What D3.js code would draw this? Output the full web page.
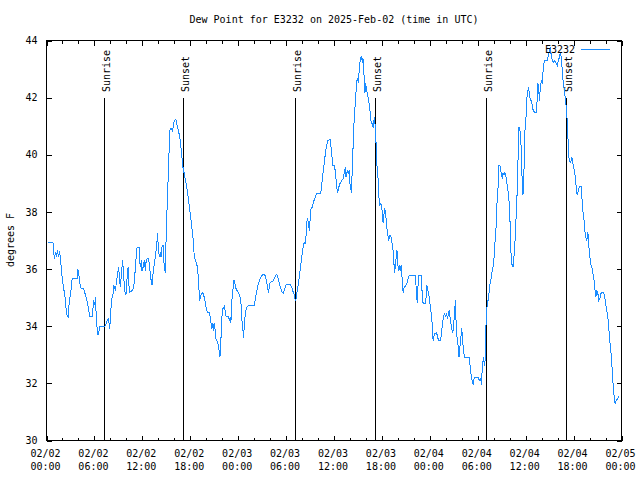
<!DOCTYPE html>
<html>
<head>
<meta charset="utf-8">
<script src="https://cdn.jsdelivr.net/npm/d3@7"></script>
<style>
  html, body { margin: 0; padding: 0; background: #fff; }
  svg { display: block; }
  text { font-family: "DejaVu Sans Mono", "Liberation Mono", monospace; font-size: 10px; fill: #000; }
</style>
</head>
<body>
<svg id="chart" width="640" height="480"></svg>
<script>
// ---- data (hours since 2025-02-02 00:00 UTC, dew point in degrees F) ----
const hours = [0.13,0.81,0.88,1.0,1.13,1.25,1.38,1.5,1.63,1.75,1.88,2.0,2.13,2.25,2.38,2.5,2.71,2.84,3.0,3.09,3.21,3.84,3.91,4.04,4.16,4.34,4.66,4.88,5.09,5.29,5.41,5.71,5.79,5.91,6.04,6.13,6.21,6.34,6.46,6.59,6.66,7.29,7.5,7.59,7.79,7.88,8.0,8.13,8.34,8.41,8.63,8.75,8.91,9.04,9.16,9.25,9.38,9.54,9.66,9.79,9.91,10.0,10.09,10.21,10.34,10.41,10.71,10.91,11.04,11.21,11.34,11.59,11.66,11.75,11.88,11.96,12.09,12.25,12.38,12.46,12.59,12.79,12.91,13.0,13.13,13.21,13.34,13.5,13.63,13.75,13.84,13.91,14.0,14.13,14.25,14.34,14.46,14.59,14.66,14.79,14.88,14.96,15.09,15.21,15.29,15.41,15.59,15.75,15.88,15.91,16.04,16.21,16.34,16.46,16.59,16.75,16.96,17.09,17.24,17.59,17.79,18.0,18.21,18.41,18.5,18.75,18.91,19.04,19.16,19.34,19.46,19.59,19.75,19.88,20.0,20.16,20.41,20.59,20.71,20.84,20.91,21.0,21.13,21.25,21.41,21.54,21.66,21.71,21.79,21.88,21.96,22.09,22.21,22.29,22.38,22.5,22.79,22.91,23.0,23.09,23.21,23.34,23.46,23.56,23.66,23.84,24.04,24.25,24.38,24.5,24.59,24.66,24.75,24.84,24.91,25.09,25.29,26.04,26.16,26.34,26.54,26.75,26.96,27.16,27.41,27.59,27.79,27.91,28.0,28.34,28.5,28.71,28.84,29.0,29.16,29.34,29.5,29.66,29.84,30.0,30.5,30.71,30.91,31.04,31.16,31.25,31.34,31.46,31.59,31.75,31.96,32.16,32.29,32.41,32.5,32.59,32.66,32.79,32.91,33.0,33.13,33.25,33.41,33.59,33.71,33.84,34.34,34.46,34.59,34.75,34.96,35.09,35.21,35.5,35.63,35.75,35.84,36.0,36.16,36.34,36.46,36.59,36.75,36.96,37.16,37.29,37.41,37.5,37.66,37.79,37.91,38.0,38.21,38.29,38.34,38.41,38.54,38.71,38.84,38.96,39.04,39.13,39.25,39.34,39.46,39.54,39.63,39.71,39.79,39.88,39.96,40.09,40.21,40.38,40.5,40.63,40.84,40.91,41.04,41.16,41.25,41.34,41.41,41.54,41.63,41.75,41.88,42.0,42.09,42.16,42.25,42.34,42.46,42.59,42.71,42.84,43.0,43.13,43.25,43.38,43.46,43.59,43.71,43.88,43.96,44.04,44.16,44.29,44.41,44.5,44.59,44.66,44.79,45.09,45.29,45.41,46.16,46.25,46.38,46.41,46.54,46.63,46.91,47.0,47.04,47.16,47.41,47.54,47.63,47.75,47.88,48.0,48.13,48.25,48.34,48.41,48.54,48.66,48.84,48.96,49.09,49.34,49.46,49.59,49.71,49.84,49.96,50.09,50.21,50.34,50.41,50.5,50.63,50.75,50.84,50.96,51.09,51.21,51.29,51.38,51.5,51.59,51.66,51.79,51.91,52.0,52.09,52.21,52.34,52.91,53.0,53.13,53.25,53.41,53.54,53.66,54.04,54.13,54.25,54.38,54.46,54.54,54.63,54.71,54.79,54.88,54.96,55.04,55.13,55.21,55.34,55.41,55.5,55.63,55.75,55.91,56.04,56.16,56.29,56.41,56.54,56.66,56.84,56.96,57.09,57.16,57.29,57.41,57.54,57.66,57.84,58.0,58.13,58.21,58.34,58.41,58.5,58.63,58.75,58.91,59.04,59.16,59.29,59.38,59.46,59.54,59.66,59.75,59.84,59.91,60.04,60.16,60.34,60.46,60.59,60.75,60.84,60.96,61.13,61.34,61.41,61.54,61.63,61.71,61.84,61.96,62.09,62.16,62.29,62.41,62.71,62.84,62.96,63.09,63.21,63.34,63.5,63.66,63.84,63.96,64.09,64.21,64.34,64.46,64.59,64.71,64.84,65.0,65.13,65.21,65.29,65.41,65.59,65.79,65.91,66.04,66.13,66.25,66.38,66.46,66.59,66.75,66.96,67.04,67.16,67.29,67.41,67.54,67.66,67.79,67.88,68.0,68.13,68.29,68.41,68.54,68.66,68.79,68.91,69.04,69.16,69.34,69.46,69.75,69.88,70.0,70.16,70.34,70.5,70.66,70.79,70.91,71.04,71.13,71.21,71.34,71.54,71.66];
const dewF = [36.93,36.93,36.65,36.37,36.58,36.48,36.65,36.44,36.62,36.37,35.95,35.6,35.36,35.15,34.9,34.41,34.34,34.83,35.15,35.32,35.67,35.67,35.99,35.85,35.5,35.32,35.32,35.08,34.87,34.55,34.34,34.34,34.55,34.9,34.73,35.01,34.45,33.92,33.68,33.85,33.99,33.99,34.1,34.2,34.27,33.92,34.2,34.9,35.15,35.43,35.25,35.53,35.85,36.06,35.6,35.36,35.85,36.3,35.78,35.25,35.08,35.18,35.71,36.06,35.36,35.18,35.25,35.32,35.71,36.37,36.76,36.76,36.3,36.06,36.3,35.95,36.06,36.3,35.95,36.23,36.37,36.37,36.06,35.85,35.53,35.43,35.85,36.2,36.41,36.72,37.0,37.25,36.76,36.41,36.58,36.41,36.76,36.83,36.3,36.06,35.85,36.9,38.05,39.0,39.45,40.85,40.92,40.85,40.99,41.1,41.2,41.24,41.03,40.92,40.75,40.5,39.91,39.56,39.35,38.82,38.4,37.95,37.42,36.93,36.41,36.23,36.06,35.6,34.9,35.08,35.15,35.18,35.01,34.83,34.62,34.48,34.48,34.13,33.92,34.1,33.85,34.1,33.85,33.5,33.47,33.26,33.08,32.91,33.22,33.78,34.31,34.62,34.66,34.73,34.48,34.34,34.34,34.2,34.31,34.13,34.9,35.25,35.6,35.6,35.36,35.25,35.18,35.01,34.73,34.1,33.92,33.6,33.92,34.27,34.48,34.66,34.73,34.73,34.97,35.25,35.5,35.67,35.78,35.81,35.78,35.5,35.18,35.36,35.53,35.57,35.67,35.78,35.81,35.67,35.5,35.32,35.18,35.15,35.32,35.46,35.46,35.36,35.18,35.08,34.87,34.97,35.15,35.36,35.6,35.95,36.41,36.83,36.93,36.9,37.18,37.6,37.77,37.63,37.35,37.7,38.12,38.16,38.33,38.47,38.58,38.65,38.65,38.93,39.28,39.63,40.15,40.33,40.5,40.54,40.26,39.91,39.63,39.63,39.45,38.86,38.68,38.86,38.99,39.1,39.17,39.38,39.56,39.21,39.45,39.35,39.45,38.99,38.65,39.7,39.8,40.5,41.31,42.0,42.6,42.67,42.5,42.85,43.23,43.37,43.47,43.23,43.37,43.05,42.6,42.18,42.5,42.25,42.08,41.83,41.55,41.2,41.03,40.95,41.31,41.03,40.5,39.91,39.45,39.1,38.51,38.23,38.3,38.12,37.77,37.6,37.88,38.12,37.95,37.53,37.25,37.0,37.18,37.14,36.93,36.72,36.37,35.88,36.2,36.65,36.41,35.95,36.13,35.95,36.13,35.78,35.43,35.18,35.36,35.46,35.67,35.78,35.78,35.5,35.01,34.8,35.5,35.78,35.78,35.43,35.08,34.8,34.8,35.01,35.43,35.25,35.08,34.83,34.55,34.27,33.75,33.5,33.68,33.75,33.78,33.64,33.5,33.5,33.75,34.1,34.31,34.45,34.31,34.45,34.27,34.45,34.55,34.38,34.13,33.92,33.75,33.92,34.48,34.9,34.1,33.68,33.43,33.15,32.91,33.33,33.68,33.92,33.57,33.15,32.91,32.91,32.73,32.38,32.17,31.96,32.17,32.21,32.21,32.14,32.1,32.17,31.96,32.38,32.7,32.91,32.73,32.62,33.08,34.1,34.55,34.9,34.9,35.15,35.43,35.6,35.85,36.06,36.41,36.93,37.46,38.3,38.86,39.63,39.59,39.28,39.17,39.35,39.28,39.38,39.21,38.99,38.65,38.05,36.83,36.2,36.13,36.06,36.3,36.76,37.46,38.51,39.8,40.96,40.82,40.6,40.05,39.28,38.58,39.21,39.8,40.85,41.31,42.0,42.36,42.15,41.9,41.9,41.66,41.55,41.48,41.48,41.8,42.5,42.36,41.9,42.36,42.6,42.53,42.85,43.2,43.3,43.3,43.47,43.65,43.72,43.47,43.3,43.23,43.3,43.2,43.13,43.3,43.4,43.58,43.4,42.95,42.5,42.25,41.9,41.55,41.1,40.61,39.91,39.7,39.91,39.7,39.52,39.45,39.1,38.75,38.58,38.75,38.89,38.89,38.51,38.05,37.77,37.35,37.11,37.0,37.28,36.9,36.55,36.2,36.06,35.85,35.67,35.32,35.01,35.25,35.15,34.9,35.01,35.18,35.18,35.08,34.83,34.55,34.2,33.6,33.15,32.7,32.1,31.64,31.4,31.3,31.4,31.47,31.54];

const sunriseHours = [7.25, 31.15, 55.15];
const sunsetHours = [17.15, 41.15, 65.15];
const yTickValues = [30, 32, 34, 36, 38, 40, 42, 44];
const xTickHours = [0, 6, 12, 18, 24, 30, 36, 42, 48, 54, 60, 66, 72];
const xTickDates = ["02/02","02/02","02/02","02/02","02/03","02/03","02/03","02/03","02/04","02/04","02/04","02/04","02/05"];
const xTickTimes = ["00:00","06:00","12:00","18:00","00:00","06:00","12:00","18:00","00:00","06:00","12:00","18:00","00:00"];
const xMinorHours = d3.range(0, 73, 2);
const titleText = "Dew Point for E3232 on 2025-Feb-02 (time in UTC)";
const yLabel = "degrees F";
const seriesName = "E3232";

// ---- layout ----
const L = 46.5, R = 621.5, T = 40.5, B = 440.5;
const lineColor = "#1a8cff";
const start = Date.UTC(2025, 1, 2, 0, 0);
const toDate = h => new Date(start + h * 3600000);

const x = d3.scaleUtc().domain([toDate(0), toDate(72)]).range([L, R]);
const y = d3.scaleLinear().domain([30, 44]).range([B, T]);

const svg = d3.select("#chart");

function styleAxis(g) {
  g.select(".domain").remove();
  g.selectAll("line").attr("stroke", "#000").attr("stroke-width", 1).attr("shape-rendering", "crispEdges");
  g.selectAll("text").attr("font-family", null).attr("font-size", null);
  g.attr("font-family", null).attr("font-size", null);
}

// minor x ticks (bottom and top)
svg.append("g").attr("transform", `translate(0,${B})`)
  .call(d3.axisBottom(x).tickValues(xMinorHours.map(toDate)).tickSize(-3).tickFormat(""))
  .call(styleAxis);
svg.append("g").attr("transform", `translate(0,${T})`)
  .call(d3.axisTop(x).tickValues(xMinorHours.map(toDate)).tickSize(-3).tickFormat(""))
  .call(styleAxis);
// major x ticks
svg.append("g").attr("transform", `translate(0,${B})`)
  .call(d3.axisBottom(x).tickValues(xTickHours.map(toDate)).tickSize(-5).tickFormat(""))
  .call(styleAxis);
svg.append("g").attr("transform", `translate(0,${T})`)
  .call(d3.axisTop(x).tickValues(xTickHours.map(toDate)).tickSize(-5).tickFormat(""))
  .call(styleAxis);

// x tick labels (two lines)
const xl = svg.append("g");
xTickHours.forEach((h, i) => {
  const t = xl.append("text").attr("x", x(toDate(h)) - 1).attr("text-anchor", "middle");
  t.append("tspan").attr("x", x(toDate(h)) - 1).attr("y", 457).text(xTickDates[i]);
  t.append("tspan").attr("x", x(toDate(h)) - 1).attr("y", 470).text(xTickTimes[i]);
});

// y axes
svg.append("g").attr("transform", `translate(${L},0)`)
  .call(d3.axisLeft(y).tickValues(yTickValues).tickSize(-5).tickPadding(9).tickFormat(d3.format("d")))
  .call(styleAxis);
svg.append("g").attr("transform", `translate(${R},0)`)
  .call(d3.axisRight(y).tickValues(yTickValues).tickSize(-5).tickFormat(""))
  .call(styleAxis);

// frame
svg.append("rect").attr("x", L).attr("y", T).attr("width", R - L).attr("height", B - T)
  .attr("fill", "none").attr("stroke", "#000").attr("stroke-width", 1).attr("shape-rendering", "crispEdges");

// sunrise / sunset markers
const events = sunriseHours.map(h => ({h, label: "Sunrise"}))
  .concat(sunsetHours.map(h => ({h, label: "Sunset"})));
events.forEach(e => {
  const xp = Math.round(x(toDate(e.h)) - 0.5) + 0.5;
  svg.append("line").attr("x1", xp).attr("x2", xp).attr("y1", y(42)).attr("y2", B)
    .attr("stroke", "#000").attr("stroke-width", 1).attr("shape-rendering", "crispEdges");
  svg.append("text").attr("transform", `translate(${xp + 5},92) rotate(-90)`)
    .attr("text-anchor", "start").text(e.label);
});

// data line
const pts = hours.map((h, i) => [toDate(h), dewF[i]]);
svg.append("path").datum(pts)
  .attr("fill", "none").attr("stroke", lineColor).attr("stroke-width", 1)
  .attr("shape-rendering", "crispEdges")
  .attr("d", d3.line().x(d => x(d[0])).y(d => y(d[1])));

// legend
svg.append("text").attr("x", 575).attr("y", 53).attr("text-anchor", "end").text(seriesName);
svg.append("line").attr("x1", 581).attr("x2", 610).attr("y1", 49.5).attr("y2", 49.5)
  .attr("stroke", lineColor).attr("stroke-width", 1).attr("shape-rendering", "crispEdges");

// title and y label
svg.append("text").attr("x", (L + R) / 2).attr("y", 23).attr("text-anchor", "middle").text(titleText);
svg.append("text").attr("transform", `translate(14,240) rotate(-90)`).attr("text-anchor", "middle").text(yLabel);
</script>
</body>
</html>
